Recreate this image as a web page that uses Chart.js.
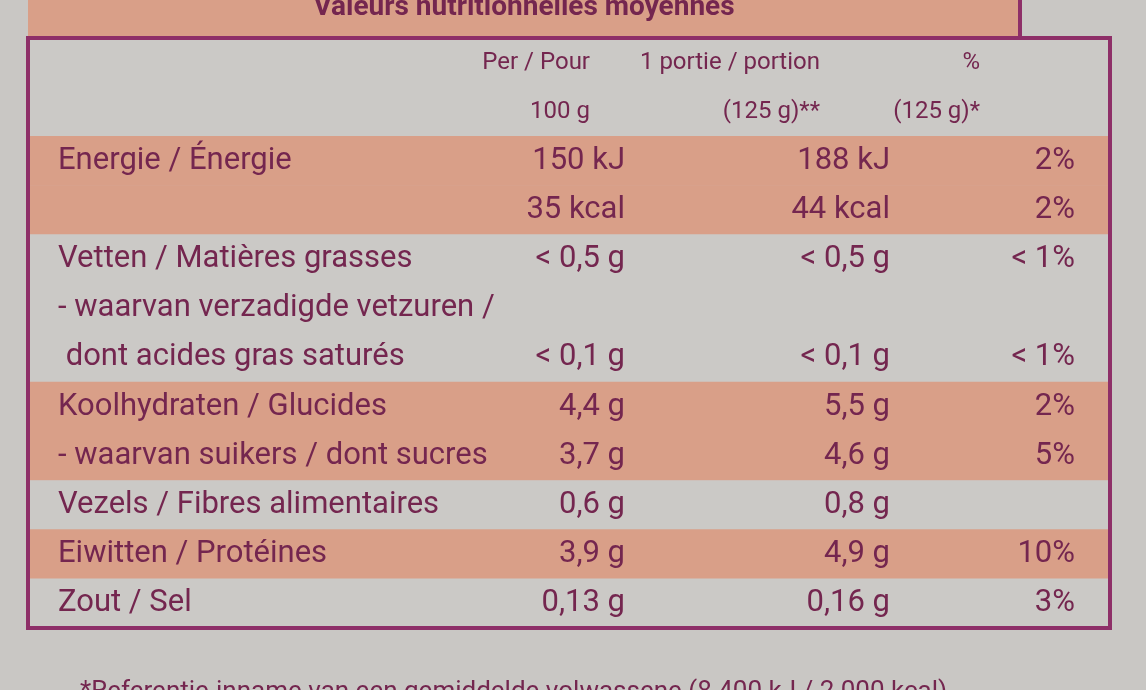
<!DOCTYPE html>
<html><head><meta charset="utf-8">
<script src="https://cdn.jsdelivr.net/npm/chart.js@4"></script>
<style>html,body{margin:0;padding:0;background:#c9c7c4;}canvas{display:block;}</style>
</head><body>
<canvas id="c" width="1146" height="690"></canvas>
<script>
const title = "Valeurs nutritionnelles moyennes";
const footnote = "*Referentie-inname van een gemiddelde volwassene (8 400 kJ / 2 000 kcal)";
const rowLabels = ["", "", "Energie / Énergie", "", "Vetten / Matières grasses", "- waarvan verzadigde vetzuren /", " dont acides gras saturés", "Koolhydraten / Glucides", "- waarvan suikers / dont sucres", "Vezels / Fibres alimentaires", "Eiwitten / Protéines", "Zout / Sel"];
const per100 = ["Per / Pour", "100 g", "150 kJ", "35 kcal", "< 0,5 g", "", "< 0,1 g", "4,4 g", "3,7 g", "0,6 g", "3,9 g", "0,13 g"];
const perPortion = ["1 portie / portion", "(125 g)**", "188 kJ", "44 kcal", "< 0,5 g", "", "< 0,1 g", "5,5 g", "4,6 g", "0,8 g", "4,9 g", "0,16 g"];
const pctRI = ["%", "(125 g)*", "2%", "2%", "< 1%", "", "< 1%", "2%", "5%", "", "10%", "3%"];
const bandType = ["g", "g", "s", "s", "g", "g", "g", "s", "s", "g", "s", "g"];

const SAL = "#d99f88", GRY = "#cbc9c6", PUR = "#8e2f68", TXT = "#74264f";
const FONT = "'Liberation Sans Narrow','Roboto','Liberation Sans',sans-serif";

const tablePlugin = {
  id: 'tbl',
  beforeDraw(chart) {
    const {ctx, chartArea: a} = chart;
    ctx.save();
    ctx.fillStyle = "#c9c7c4"; ctx.fillRect(0, 0, chart.width, chart.height);
    ctx.fillStyle = SAL; ctx.fillRect(a.left, 0, a.right - a.left - 90, a.top);
    ctx.font = "bold 28px " + FONT; ctx.fillStyle = TXT; ctx.textAlign = "center"; ctx.textBaseline = "middle";
    ctx.fillText(title, (a.left + a.right - 90) / 2, 8);
    ctx.restore();
  },
  afterDraw(chart) {
    const {ctx, chartArea: a, scales: {y}} = chart;
    ctx.save();
    ctx.strokeStyle = PUR; ctx.lineWidth = 4;
    ctx.strokeRect(a.left, a.top, a.right - a.left, a.bottom - a.top);
    ctx.beginPath(); ctx.moveTo(a.right - 90, 0); ctx.lineTo(a.right - 90, a.top); ctx.stroke();
    ctx.fillStyle = TXT; ctx.textBaseline = "middle";
    rowLabels.forEach((lab, i) => {
      const yy = y.getPixelForValue(i);
      const small = i < 2;
      ctx.font = (small ? "24px " : "31px ") + FONT;
      ctx.textAlign = "left"; ctx.fillText(lab, a.left + 30, yy);
      ctx.textAlign = "right";
      ctx.fillText(per100[i], small ? 590 : 625, yy);
      ctx.fillText(perPortion[i], small ? 820 : 890, yy);
      ctx.fillText(pctRI[i], small ? 980 : 1075, yy);
    });
    ctx.font = "26px " + FONT; ctx.textAlign = "left";
    ctx.fillText(footnote, 80, chart.height + 2);
    ctx.restore();
  }
};

new Chart(document.getElementById('c'), {
  type: 'bar',
  data: {
    labels: rowLabels.map((l, i) => "r" + i),
    datasets: [{
      data: bandType.map(() => [0, 1]),
      backgroundColor: bandType.map(t => t === "s" ? SAL : GRY),
      borderColor: "#d8d6d3",
      borderWidth: 0,
      barPercentage: 1, categoryPercentage: 1
    }]
  },
  options: {
    indexAxis: 'y', responsive: false, animation: false, devicePixelRatio: 1,
    layout: {padding: {top: 38, bottom: 62, left: 28, right: 36}},
    plugins: {legend: {display: false}, tooltip: {enabled: false}},
    scales: {
      x: {display: false, min: 0, max: 1},
      y: {display: false, offset: true}
    }
  },
  plugins: [tablePlugin]
});
</script>
</body></html>
